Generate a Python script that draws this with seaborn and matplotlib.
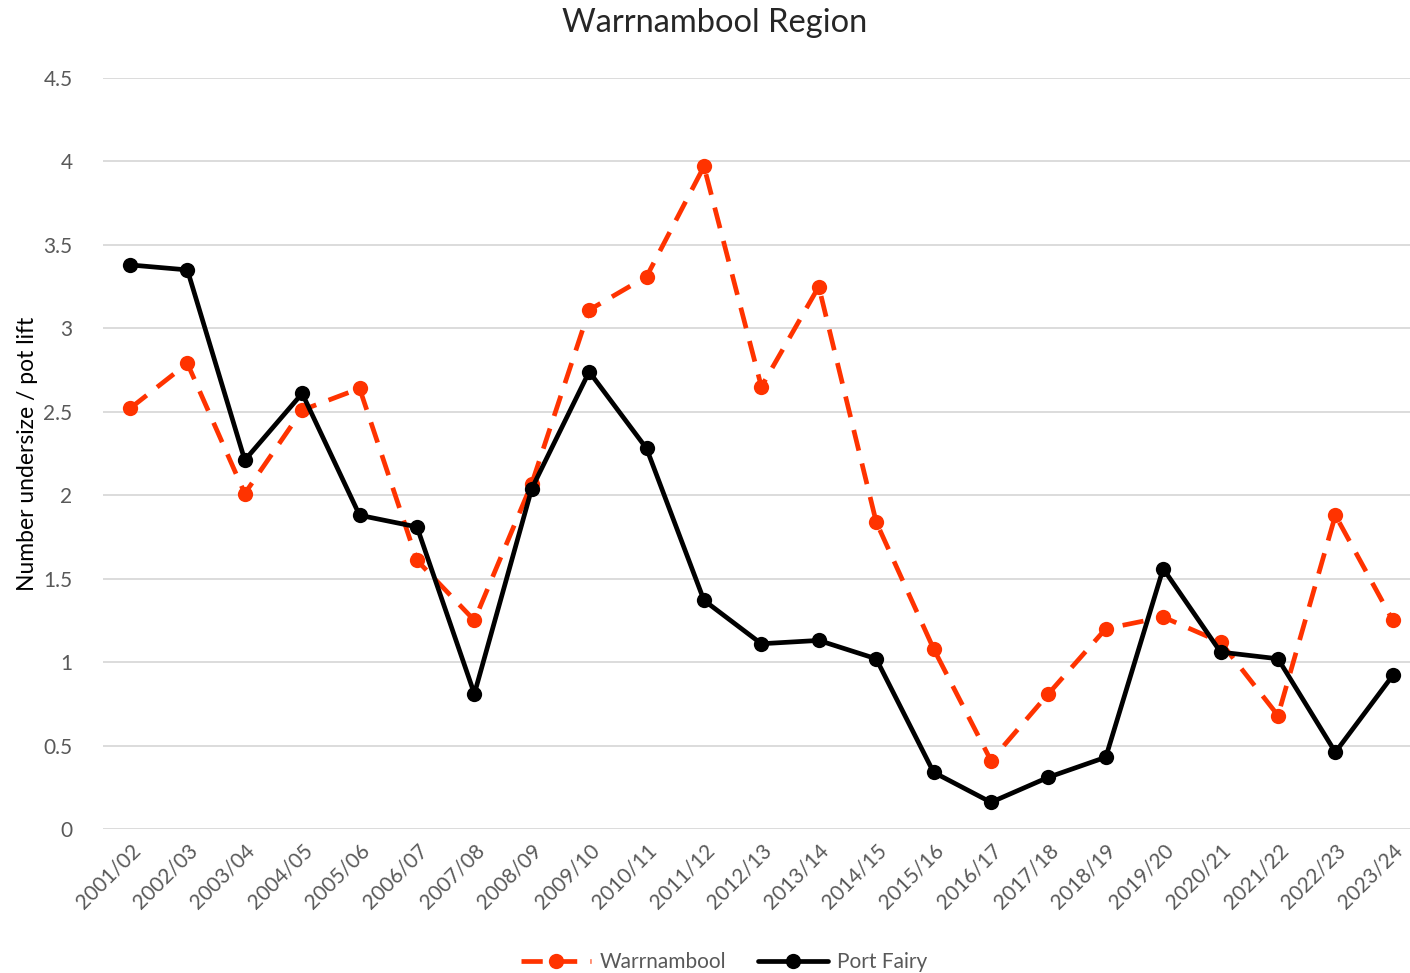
import pandas as pd
import matplotlib.pyplot as plt
import seaborn as sns

seasons = ["2001/02", "2002/03", "2003/04", "2004/05", "2005/06", "2006/07", "2007/08",
           "2008/09", "2009/10", "2010/11", "2011/12", "2012/13", "2013/14", "2014/15",
           "2015/16", "2016/17", "2017/18", "2018/19", "2019/20", "2020/21", "2021/22",
           "2022/23", "2023/24"]
warrnambool = [2.52, 2.79, 2.01, 2.51, 2.64, 1.61, 1.25, 2.07, 3.11, 3.31, 3.97, 2.65,
               3.25, 1.84, 1.08, 0.41, 0.81, 1.20, 1.27, 1.12, 0.68, 1.88, 1.25]
port_fairy = [3.38, 3.35, 2.21, 2.61, 1.88, 1.81, 0.81, 2.04, 2.74, 2.28, 1.37, 1.11,
              1.13, 1.02, 0.34, 0.16, 0.31, 0.43, 1.56, 1.06, 1.02, 0.46, 0.92]

df = pd.concat([
    pd.DataFrame({"Season": seasons, "Value": warrnambool, "Site": "Warrnambool"}),
    pd.DataFrame({"Season": seasons, "Value": port_fairy, "Site": "Port Fairy"}),
])
df["x"] = df["Season"].map({s: i for i, s in enumerate(seasons)})

sns.set_style("white")
plt.rcParams["font.family"] = ["Lato", "DejaVu Sans"]

fig = plt.figure(figsize=(14.1, 9.73), dpi=100)
ax = fig.add_axes([103 / 1410, 144 / 973, 1307 / 1410, 751 / 973])

sns.lineplot(data=df, x="x", y="Value", hue="Site", style="Site",
             palette={"Warrnambool": "#FF3300", "Port Fairy": "#000000"},
             dashes={"Warrnambool": (4.5, 2.8), "Port Fairy": ""},
             markers={"Warrnambool": "o", "Port Fairy": "o"},
             markersize=11, markeredgewidth=0, linewidth=3.4, ax=ax)

ax.set_xlim(-0.47, 22.3)
ax.set_ylim(0, 4.5)
ax.set_yticks([0, 0.5, 1, 1.5, 2, 2.5, 3, 3.5, 4, 4.5])
ax.set_yticklabels(["0", "0.5", "1", "1.5", "2", "2.5", "3", "3.5", "4", "4.5"])
ax.set_xticks(range(len(seasons)))
ax.set_xticklabels(seasons, rotation=45, ha="right", rotation_mode="anchor")
ax.tick_params(axis="both", colors="#595959", labelsize=15, length=0)
ax.tick_params(axis="y", pad=22)
ax.tick_params(axis="x", pad=8)
ax.grid(axis="y", color="#d9d9d9", linewidth=1.3)
ax.set_axisbelow(True)
for s in ax.spines.values():
    s.set_visible(False)

ax.set_xlabel("")
ax.set_ylabel("Number undersize / pot lift", fontsize=16.5, color="#000000", labelpad=4)
fig.text(0.507, 0.976, "Warrnambool Region", ha="center", va="center", fontsize=23.5)

ax.legend(loc="center", bbox_to_anchor=(0.475, -0.177), ncol=2, frameon=False,
          fontsize=15, labelcolor="#595959", handlelength=3.4, columnspacing=1.5,
          handletextpad=0.4)

fig.savefig("out.png", dpi=100)
